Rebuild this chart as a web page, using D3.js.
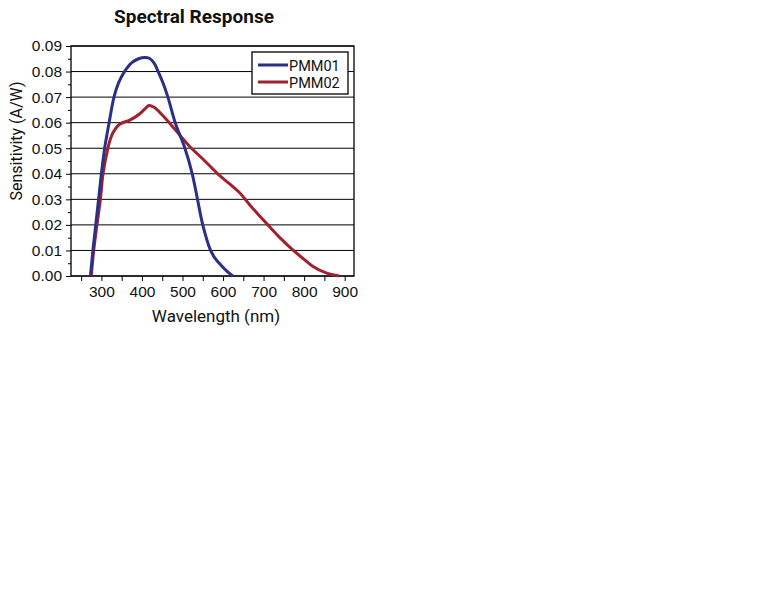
<!DOCTYPE html>
<html>
<head>
<meta charset="utf-8">
<script src="https://cdn.jsdelivr.net/npm/d3@7"></script>
<style>
  body { margin: 0; background: #fff; }
  svg { font-family: Roboto, "Liberation Sans", sans-serif; }
</style>
</head>
<body>
<div id="plot"></div>
<script>
// wavelength (nm) / sensitivity (A/W)
const pmm01 = [
  [273, 0.000], [279, 0.010], [286, 0.020], [293, 0.030], [300, 0.040],
  [308, 0.050], [319, 0.060], [331, 0.070], [342, 0.0755], [357, 0.0800],
  [375, 0.0835], [392, 0.0850], [407, 0.0855], [418, 0.0852], [430, 0.0833],
  [440, 0.0800], [452, 0.0755], [464, 0.0700], [482, 0.0600], [506, 0.0500],
  [524, 0.0400], [537, 0.0300], [550, 0.0200], [568, 0.0105], [580, 0.0070],
  [595, 0.0042], [610, 0.0018], [624, 0.000]
];
const pmm02 = [
  [275, 0.000], [281, 0.010], [289, 0.020], [297.5, 0.030], [304, 0.040],
  [316, 0.050], [322, 0.0535], [329, 0.0562], [345, 0.0594], [370, 0.0610],
  [394, 0.0634], [408, 0.0655], [417, 0.0667], [430, 0.0660], [450, 0.0630],
  [470, 0.0595], [495, 0.0548], [517, 0.0508], [552, 0.0455], [587, 0.0400],
  [615, 0.0362], [641, 0.0326], [665, 0.0280], [710, 0.0201], [740, 0.0150],
  [772, 0.0102], [800, 0.0065], [821, 0.0038], [854, 0.0012], [887, 0.000]
];
const seriesNames = ["PMM01", "PMM02"];
const seriesColors = ["#2b2f86", "#a1212f"];
const xTickValues = [300, 400, 500, 600, 700, 800, 900];
const yTickValues = [0, 0.01, 0.02, 0.03, 0.04, 0.05, 0.06, 0.07, 0.08, 0.09];

const width = 768, height = 614;
const margin = {left: 71, right: 414, top: 46, bottom: 338};

const svg = d3.select("#plot").append("svg")
  .attr("width", width)
  .attr("height", height);

const x = d3.scaleLinear()
  .domain([225, 923])
  .range([margin.left, width - margin.right]);

const y = d3.scaleLinear()
  .domain([0, 0.09])
  .range([height - margin.bottom, margin.top]);

// grid lines
svg.append("g")
  .selectAll("line")
  .data(yTickValues)
  .join("line")
    .attr("x1", x.range()[0])
    .attr("x2", x.range()[1])
    .attr("y1", d => y(d))
    .attr("y2", d => y(d))
    .attr("stroke", "#000")
    .attr("stroke-width", 1);

// frame
svg.append("rect")
  .attr("x", x.range()[0])
  .attr("y", y.range()[1])
  .attr("width", x.range()[1] - x.range()[0])
  .attr("height", y.range()[0] - y.range()[1])
  .attr("fill", "none")
  .attr("stroke", "#000")
  .attr("stroke-width", 1.3);

// y axis
const yAxis = svg.append("g")
  .attr("transform", `translate(${margin.left},0)`)
  .call(d3.axisLeft(y).tickValues(yTickValues).tickFormat(d3.format(".2f")).tickSize(5).tickPadding(4));
yAxis.select(".domain").remove();
yAxis.selectAll("text").style("font-size", "15.5px").attr("fill", "#111");

svg.append("g")
  .attr("transform", `translate(${margin.left},0)`)
  .call(d3.axisLeft(y).tickValues(d3.range(9).map(i => i * 0.01 + 0.005)).tickSize(3).tickFormat(""))
  .select(".domain").remove();

// x axis
const xAxis = svg.append("g")
  .attr("transform", `translate(0,${height - margin.bottom})`)
  .call(d3.axisBottom(x).tickValues(xTickValues).tickSize(5).tickPadding(5));
xAxis.select(".domain").remove();
xAxis.selectAll("text").style("font-size", "15.5px").attr("fill", "#111");

svg.append("g")
  .attr("transform", `translate(0,${height - margin.bottom})`)
  .call(d3.axisBottom(x).tickValues(d3.range(250, 900, 100)).tickSize(5).tickFormat(""))
  .select(".domain").remove();

// curves (red first so blue sits on top where they meet)
const line = d3.line()
  .x(d => x(d[0]))
  .y(d => y(d[1]))
  .curve(d3.curveCatmullRom.alpha(0.5));

[pmm02, pmm01].forEach((data, i) => {
  svg.append("path")
    .datum(data)
    .attr("fill", "none")
    .attr("stroke", seriesColors[1 - i])
    .attr("stroke-width", 3)
    .attr("stroke-linejoin", "round")
    .attr("d", line);
});

// legend
const legend = svg.append("g")
  .attr("transform", "translate(252,52)");
legend.append("rect")
  .attr("width", 96)
  .attr("height", 42)
  .attr("fill", "#fff")
  .attr("stroke", "#000")
  .attr("stroke-width", 1.3);
seriesNames.forEach((s, i) => {
  const g = legend.append("g").attr("transform", `translate(0,${13 + i * 17})`);
  g.append("line")
    .attr("x1", 6).attr("x2", 36)
    .attr("stroke", seriesColors[i])
    .attr("stroke-width", 3);
  g.append("text")
    .attr("x", 37)
    .attr("y", 5.5)
    .style("font-size", "14.5px")
    .attr("fill", "#111")
    .text(s);
});

// titles
svg.append("text")
  .attr("x", 194)
  .attr("y", 23)
  .attr("text-anchor", "middle")
  .style("font-size", "19px")
  .style("font-weight", "bold")
  .attr("fill", "#111")
  .text("Spectral Response");

svg.append("text")
  .attr("x", 216)
  .attr("y", 322)
  .attr("text-anchor", "middle")
  .style("font-size", "17px")
  .attr("fill", "#111")
  .text("Wavelength (nm)");

svg.append("text")
  .attr("transform", "rotate(-90)")
  .attr("x", -141)
  .attr("y", 22)
  .attr("text-anchor", "middle")
  .style("font-size", "16px")
  .attr("fill", "#111")
  .text("Sensitivity (A/W)");
</script>
</body>
</html>
